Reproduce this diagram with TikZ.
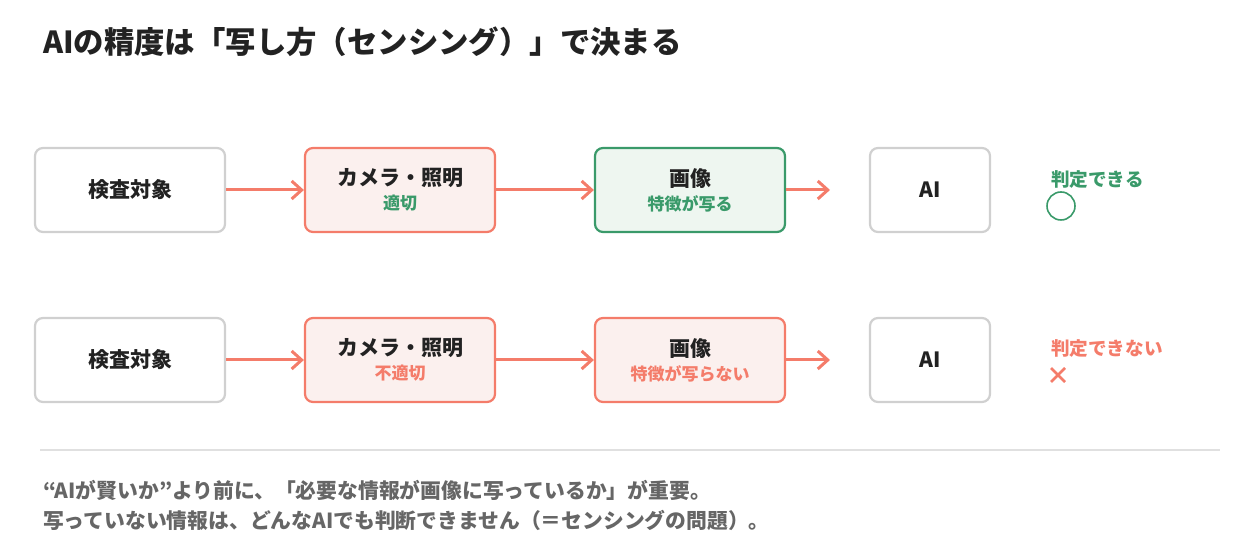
\documentclass[tikz,border=0pt]{standalone}
\usepackage{fontspec}
\setmainfont{Noto Sans CJK JP}
\usetikzlibrary{arrows.meta}
\definecolor{coral}{HTML}{F47C6A}
\definecolor{green}{HTML}{3A9A6A}
\definecolor{pinkf}{HTML}{FBF0EE}
\definecolor{greenf}{HTML}{EEF6F0}
\definecolor{grayb}{HTML}{D0D0D0}
\definecolor{txt}{HTML}{222222}
\newcommand{\subfnt}{\bfseries\fontsize{8.5}{10}\selectfont}
\begin{document}
\begin{tikzpicture}[x=0.5pt,y=-0.5pt,
 box/.style={draw=grayb,line width=1.1pt,rounded corners=4pt,fill=white,minimum height=42pt,align=center,font=\bfseries\fontsize{10.5}{13}\selectfont,text=txt},
 pbox/.style={box,draw=coral,fill=pinkf},
 gbox/.style={box,draw=green,fill=greenf},
 arr/.style={draw=coral,line width=1.5pt,-{Straight Barb[length=5pt,width=9pt]}}]
\useasboundingbox (0,0) rectangle (1260,560);
\node[anchor=west,font=\bfseries\fontsize{15.2}{17}\selectfont,text=txt] (title) at (36,42) {AIの精度は「写し方（センシング）」で決まる};
% row 1
\node[box,minimum width=95pt] (a1) at (130,190) {検査対象};
\node[pbox,minimum width=95pt] (b1) at (400,190) {カメラ・照明\\[-1pt]{\color{green}\subfnt 適切}};
\node[gbox,minimum width=95pt] (c1) at (690,190) {画像\\[-1pt]{\color{green}\subfnt 特徴が写る}};
\node[box,minimum width=60pt] (d1) at (930,190) {AI};
\coordinate (e1) at (830,190);
\draw[arr] (a1) -- (b1.west);
\draw[arr] (b1) -- (c1.west);
\draw[arr] (c1.east) -- (e1);
\node[anchor=west,text=green,font=\bfseries\fontsize{9.3}{10}\selectfont] (r1) at (1044,180) {判定できる};
\node[draw=green,line width=0.8pt,circle,minimum size=14pt,inner sep=0pt] (o1) at (1061,206) {};
% row 2
\node[box,minimum width=95pt] (a2) at (130,360) {検査対象};
\node[pbox,minimum width=95pt] (b2) at (400,360) {カメラ・照明\\[-1pt]{\color{coral}\subfnt 不適切}};
\node[pbox,minimum width=95pt] (c2) at (690,360) {画像\\[-1pt]{\color{coral}\subfnt 特徴が写らない}};
\node[box,minimum width=60pt] (d2) at (930,360) {AI};
\coordinate (e2) at (830,360);
\draw[arr] (a2) -- (b2.west);
\draw[arr] (b2) -- (c2.west);
\draw[arr] (c2.east) -- (e2);
\node[anchor=west,text=coral,font=\bfseries\fontsize{9.3}{10}\selectfont] (r2) at (1044,349) {判定できない};
\coordinate (x1) at (1051,368); \coordinate (x2) at (1065,382);
\coordinate (x3) at (1051,382); \coordinate (x4) at (1065,368);
\draw[coral,line width=1.3pt] (x1) -- (x2) (x3) -- (x4);
% divider
\coordinate (l1) at (40,450); \coordinate (l2) at (1220,450);
\draw[black!12,line width=0.6pt] (l1) -- (l2);
\node[anchor=west,text=black!60,font=\bfseries\fontsize{10.4}{12}\selectfont] (f1) at (36,490) {“AIが賢いか”より前に、「必要な情報が画像に写っているか」が重要。};
\node[anchor=west,text=black!60,font=\bfseries\fontsize{10.4}{12}\selectfont] (f2) at (36,520) {写っていない情報は、どんなAIでも判断できません（＝センシングの問題）。};
\end{tikzpicture}
\end{document}
